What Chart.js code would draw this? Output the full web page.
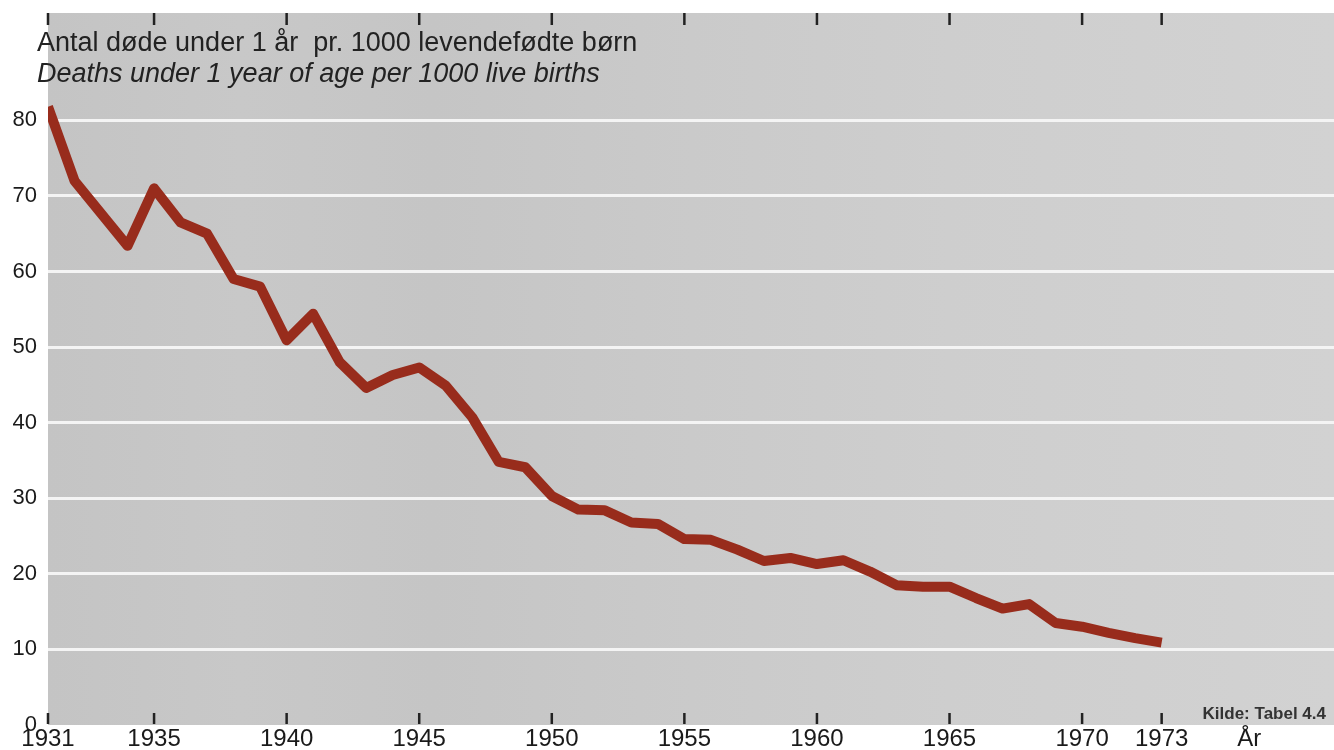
<!DOCTYPE html>
<html>
<head>
<meta charset="utf-8">
<script src="https://cdn.jsdelivr.net/npm/chart.js@4"></script>
<style>
  body { margin: 0; background: #fff; }
  #wrap { width: 1334px; height: 750px; position: relative; }
</style>
</head>
<body>
<div id="wrap"><canvas id="grafico"></canvas></div>
<script>
// data
const aar = [1931, 1932, 1933, 1934, 1935, 1936, 1937, 1938, 1939, 1940,
  1941, 1942, 1943, 1944, 1945, 1946, 1947, 1948, 1949, 1950,
  1951, 1952, 1953, 1954, 1955, 1956, 1957, 1958, 1959, 1960,
  1961, 1962, 1963, 1964, 1965, 1966, 1967, 1968, 1969, 1970,
  1971, 1972, 1973];
const doede = [81.8, 72, 67.7, 63.4, 71, 66.5, 65, 59, 58, 50.9,
  54.4, 48, 44.6, 46.3, 47.3, 44.9, 40.7, 34.8, 34.1, 30.3,
  28.5, 28.4, 26.8, 26.6, 24.6, 24.5, 23.2, 21.7, 22.1, 21.3,
  21.8, 20.3, 18.5, 18.3, 18.3, 16.8, 15.4, 16.0, 13.5, 13.0,
  12.2, 11.5, 10.9];
const xTicks = [1931, 1935, 1940, 1945, 1950, 1955, 1960, 1965, 1970, 1973];
const yTicks = [0, 10, 20, 30, 40, 50, 60, 70, 80];
const titel1 = 'Antal døde under 1 år  pr. 1000 levendefødte børn';
const titel2 = 'Deaths under 1 year of age per 1000 live births';
const kilde = 'Kilde: Tabel 4.4';
const enhed = 'År';
const enhedPos = 1976.3;

const FONT = '"Liberation Sans", Arial, sans-serif';

// gray paper + tick marks + texts
const baggrund = {
  id: 'baggrund',
  beforeDraw(chart) {
    const { ctx, chartArea: a } = chart;
    ctx.save();
    ctx.fillStyle = '#fff';
    ctx.fillRect(0, 0, chart.width, chart.height);
    const g = ctx.createLinearGradient(a.left, 0, a.right, 0);
    g.addColorStop(0, '#c4c4c4');
    g.addColorStop(0.15, '#c8c8c8');
    g.addColorStop(0.3, '#c5c5c5');
    g.addColorStop(0.5, '#cacaca');
    g.addColorStop(0.7, '#cecece');
    g.addColorStop(1, '#d2d2d2');
    ctx.fillStyle = g;
    ctx.fillRect(a.left, a.top, a.right - a.left, a.bottom - a.top);
    ctx.restore();
  },
  beforeDatasetsDraw(chart) {
    const { ctx, chartArea: a, scales } = chart;
    ctx.save();
    ctx.strokeStyle = '#222';
    ctx.lineWidth = 2.5;
    xTicks.forEach(v => {
      const x = scales.x.getPixelForValue(v);
      ctx.beginPath();
      ctx.moveTo(x, a.top);
      ctx.lineTo(x, a.top + 12);
      ctx.moveTo(x, a.bottom - 12);
      ctx.lineTo(x, a.bottom - 1);
      ctx.stroke();
    });
    ctx.restore();
  },
  afterDraw(chart) {
    const { ctx, chartArea: a } = chart;
    ctx.save();
    ctx.fillStyle = '#222';
    ctx.textBaseline = 'middle';
    ctx.font = '27px ' + FONT;
    ctx.fillText(titel1, 37, 44);
    ctx.font = 'italic 27px ' + FONT;
    ctx.fillText(titel2, 37, 74);
    ctx.font = 'bold 17px ' + FONT;
    ctx.textAlign = 'right';
    ctx.fillStyle = '#333';
    ctx.fillText(kilde, a.right - 8, a.bottom - 11);
    ctx.restore();
  }
};

new Chart(document.getElementById('grafico'), {
  type: 'line',
  data: {
    datasets: [{
      data: aar.map((a, i) => ({ x: a, y: doede[i] })),
      borderColor: '#982c1c',
      borderWidth: 10,
      borderJoinStyle: 'round',
      pointRadius: 0,
      tension: 0
    }]
  },
  options: {
    responsive: true,
    maintainAspectRatio: false,
    animation: false,
    layout: { padding: { top: 13, right: 0, left: 0, bottom: 0 } },
    plugins: { legend: { display: false }, tooltip: { enabled: false } },
    scales: {
      x: {
        type: 'linear',
        min: 1931,
        max: 1979.5,
        afterBuildTicks: s => { s.ticks = xTicks.concat([enhedPos]).map(v => ({ value: v })); },
        afterFit: s => { s.height = 25; s.paddingLeft = 0; s.paddingRight = 0; },
        grid: { display: false, drawTicks: false },
        border: { display: false },
        ticks: {
          autoSkip: false,
          maxRotation: 0,
          padding: 0,
          color: '#1a1a1a',
          font: { family: FONT, size: 24 },
          callback: v => (v === enhedPos ? enhed : String(v))
        }
      },
      y: {
        min: 0,
        max: 94.2,
        afterBuildTicks: s => { s.ticks = yTicks.map(v => ({ value: v })); },
        afterFit: s => { s.width = 48; s.paddingTop = 0; s.paddingBottom = 0; },
        border: { display: false },
        grid: {
          drawTicks: false,
          lineWidth: 3,
          color: c => (c.tick && c.tick.value === 0 ? 'rgba(0,0,0,0)' : '#f4f4f4')
        },
        ticks: {
          padding: 11,
          color: '#1a1a1a',
          font: { family: FONT, size: 22 },
          labelOffset: c => (c.tick && c.tick.value === 0 ? -6 : 0),
          callback: v => String(v)
        }
      }
    }
  },
  plugins: [baggrund]
});
</script>
</body>
</html>
